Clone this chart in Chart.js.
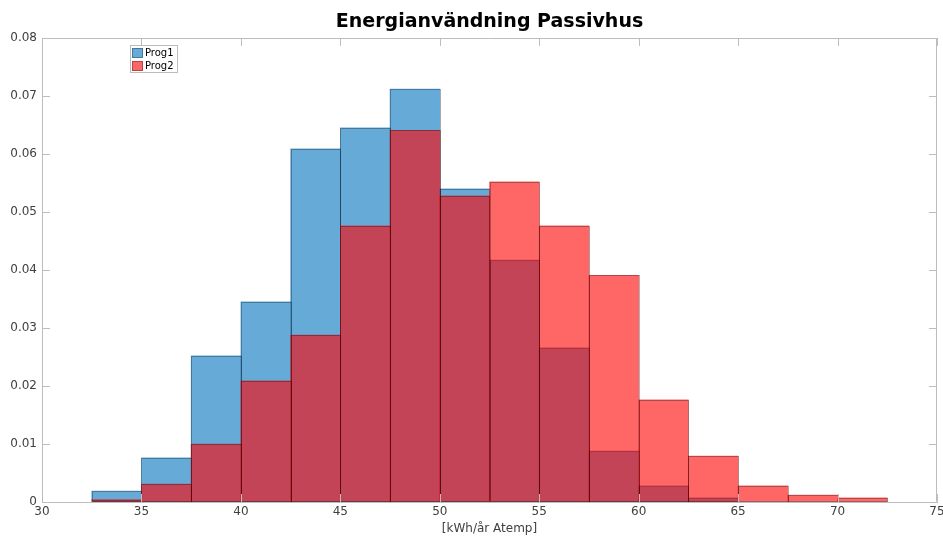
<!DOCTYPE html>
<html lang="sv">
<head>
  <meta charset="UTF-8" />
  <title>Energianvändning Passivhus</title>
  <script src="https://cdn.jsdelivr.net/npm/chart.js"></script>
  <style>
    body { margin: 0; background: #fff; }
    #wrap { width: 943px; height: 536px; }
  </style>
</head>
<body>
  <div id="wrap"><canvas id="chart" width="943" height="536"></canvas></div>

  <script>
    // bin centres (bin width 2.5 kWh)
    const binCenters = [33.75, 36.25, 38.75, 41.25, 43.75, 46.25, 48.75, 51.25,
                        53.75, 56.25, 58.75, 61.25, 63.75, 66.25, 68.75, 71.25];
    const prog1 = [0.0019, 0.0076, 0.0252, 0.0345, 0.0609, 0.0645, 0.0712, 0.0540,
                   0.0417, 0.0266, 0.0088, 0.0028, 0.0007, 0, 0, 0];
    const prog2 = [0.0004, 0.0031, 0.0100, 0.0209, 0.0288, 0.0476, 0.0641, 0.0528,
                   0.0552, 0.0476, 0.0391, 0.0176, 0.0079, 0.0028, 0.0012, 0.0007];
    const seriesNames = ['Prog1', 'Prog2'];
    const chartTitle = 'Energianvändning Passivhus';
    const xLabel = '[kWh/år Atemp]';

    const toPoints = vals => binCenters.map((c, i) => ({ x: c, y: vals[i] }));

    const axisColor = '#bdbdbd';
    const textColor = '#404040';
    const edgeColor = 'rgba(0,0,0,0.3)';
    const font = "'DejaVu Sans', sans-serif";

    // bar edges drawn over the fill, per dataset, so they blend like MATLAB's
    const barEdges = {
      id: 'barEdges',
      afterDatasetDraw(chart, args) {
        const ctx = chart.ctx;
        ctx.save();
        ctx.strokeStyle = edgeColor;
        ctx.lineWidth = 1;
        args.meta.data.forEach(bar => {
          const p = bar.getProps(['x', 'y', 'base', 'width'], true);
          if (Math.abs(p.base - p.y) < 0.5) return;
          const l = Math.round(p.x - p.width / 2) + 0.5;
          const r = Math.round(p.x + p.width / 2) + 0.5;
          const t = Math.round(p.y) + 0.5;
          const b = Math.round(p.base) - 0.5;
          ctx.strokeRect(l, t, r - l, b - t);
        });
        ctx.restore();
      }
    };

    // MATLAB-like box, inward ticks, title and legend
    const matlabBox = {
      id: 'matlabBox',
      afterDraw(chart) {
        const ctx = chart.ctx;
        const a = chart.chartArea;
        const xs = chart.scales.x, ys = chart.scales.y;
        ctx.save();
        ctx.strokeStyle = axisColor;
        ctx.lineWidth = 1;
        ctx.beginPath();
        ctx.moveTo(a.left + 0.5, a.top + 0.5);
        ctx.lineTo(a.right - 0.5, a.top + 0.5);
        ctx.lineTo(a.right - 0.5, a.bottom - 0.5);
        ctx.stroke();

        const tl = 8;
        ctx.beginPath();
        xs.ticks.forEach(t => {
          const px = Math.round(xs.getPixelForValue(t.value)) + 0.5;
          ctx.moveTo(px, a.bottom); ctx.lineTo(px, a.bottom - tl);
          ctx.moveTo(px, a.top); ctx.lineTo(px, a.top + tl);
        });
        ys.ticks.forEach(t => {
          const py = Math.round(ys.getPixelForValue(t.value)) + 0.5;
          ctx.moveTo(a.left, py); ctx.lineTo(a.left + tl, py);
          ctx.moveTo(a.right, py); ctx.lineTo(a.right - tl, py);
        });
        ctx.stroke();

        // title centred over the plot area
        ctx.fillStyle = '#000';
        ctx.font = 'bold 19px ' + font;
        ctx.textAlign = 'center';
        ctx.textBaseline = 'middle';
        ctx.fillText(chartTitle, (a.left + a.right) / 2, 22);

        // legend box
        const lx = 130, ly = 45, lw = 47, lh = 27;
        ctx.fillStyle = '#fff';
        ctx.fillRect(lx, ly, lw, lh);
        ctx.strokeStyle = '#bbbbbb';
        ctx.strokeRect(lx + 0.5, ly + 0.5, lw, lh);
        ctx.font = '10px ' + font;
        ctx.textAlign = 'left';
        chart.data.datasets.forEach((ds, i) => {
          const y = ly + 3 + i * 13;
          ctx.fillStyle = ds.backgroundColor;
          ctx.fillRect(lx + 2, y, 11, 10);
          ctx.strokeStyle = edgeColor;
          ctx.strokeRect(lx + 2.5, y + 0.5, 10, 9);
          ctx.fillStyle = '#000';
          ctx.fillText(ds.label, lx + 15, y + 5.5);
        });
        ctx.restore();
      }
    };

    new Chart(document.getElementById('chart'), {
      type: 'bar',
      data: {
        datasets: [
          {
            label: seriesNames[0],
            data: toPoints(prog1),
            backgroundColor: 'rgba(0,114,189,0.6)',
            borderWidth: 0,
            order: 2
          },
          {
            label: seriesNames[1],
            data: toPoints(prog2),
            backgroundColor: 'rgba(255,0,0,0.6)',
            borderWidth: 0,
            order: 1
          }
        ]
      },
      options: {
        responsive: false,
        animation: false,
        events: [],
        grouped: false,
        barPercentage: 1,
        categoryPercentage: 1,
        layout: { padding: { top: 38, right: 0, left: 0, bottom: 0 } },
        plugins: {
          legend: { display: false },
          title: { display: false },
          tooltip: { enabled: false }
        },
        scales: {
          x: {
            type: 'linear',
            min: 30,
            max: 75,
            offset: false,
            afterFit: s => { s.height = 34; s.paddingRight = 6; },
            ticks: { stepSize: 5, color: textColor, font: { family: font, size: 12 }, padding: 3 },
            grid: { drawOnChartArea: false, drawTicks: false },
            border: { color: axisColor },
            title: { display: true, text: xLabel, color: textColor, font: { family: font, size: 12 }, padding: 0 }
          },
          y: {
            min: 0,
            max: 0.08,
            afterFit: s => { s.width = 42; },
            ticks: {
              stepSize: 0.01,
              color: textColor,
              font: { family: font, size: 12 },
              padding: 5,
              callback: v => v === 0 ? '0' : v.toFixed(2)
            },
            grid: { drawOnChartArea: false, drawTicks: false },
            border: { color: axisColor }
          }
        }
      },
      plugins: [barEdges, matlabBox]
    });
  </script>
</body>
</html>
